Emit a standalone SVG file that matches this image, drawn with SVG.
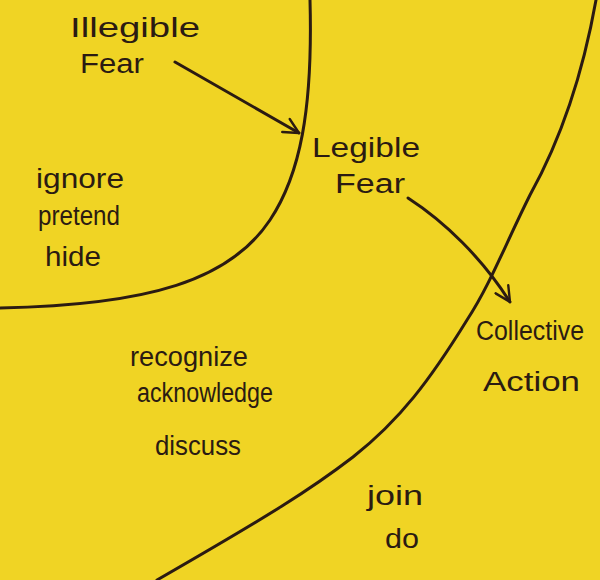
<svg xmlns="http://www.w3.org/2000/svg" width="600" height="580" viewBox="0 0 600 580">
  <style>
    .bg { fill: #F0D424; }
    .ink { fill: none; stroke: #2B1B12; stroke-width: 3; stroke-linecap: round; stroke-linejoin: round; }
    .lbl { font-family: "Liberation Sans", "Open Sans", sans-serif; font-size: 27px; fill: #2B1B12; }
  </style>
  <defs>
    <marker id="arrow" viewBox="0 0 12 12" refX="11" refY="6" markerWidth="6" markerHeight="6" orient="auto" markerUnits="strokeWidth">
      <path d="M1,1 L11,6 L1,11" fill="none" stroke="#2B1B12" stroke-width="1.6" stroke-linecap="round" stroke-linejoin="round"/>
    </marker>
  </defs>
  <rect class="bg" x="0" y="0" width="600" height="580"/>

  <g id="boundaries">
    <path class="ink" d="M310,0 C313,110 300,175 270,220 C230,280 150,305 0,308"/>
    <path class="ink" d="M596,0 C580,90 555,150 530,195 C505,245 490,285 467,320 C430,380 400,420 353,457 C310,490 270,515 157,580"/>
  </g>

  <g id="connectors">
    <path class="ink" d="M175,62 L299,133" marker-end="url(#arrow)"/>
    <path class="ink" d="M408,198 C445,222 482,258 510,302" marker-end="url(#arrow)"/>
  </g>

  <g id="illegible-fear">
    <text class="lbl" x="70" y="37" textLength="130" lengthAdjust="spacingAndGlyphs">Illegible</text>
    <text class="lbl" x="80" y="73" textLength="64" lengthAdjust="spacingAndGlyphs">Fear</text>
  </g>
  <g id="legible-fear">
    <text class="lbl" x="312" y="157" textLength="108" lengthAdjust="spacingAndGlyphs">Legible</text>
    <text class="lbl" x="335" y="193" textLength="70" lengthAdjust="spacingAndGlyphs">Fear</text>
  </g>
  <g id="collective-action">
    <text class="lbl" x="476" y="340" textLength="108" lengthAdjust="spacingAndGlyphs">Collective</text>
    <text class="lbl" x="483" y="391" textLength="97" lengthAdjust="spacingAndGlyphs">Action</text>
  </g>
  <g id="inner-verbs">
    <text class="lbl" x="36" y="188" textLength="88" lengthAdjust="spacingAndGlyphs">ignore</text>
    <text class="lbl" x="38" y="225" textLength="82" lengthAdjust="spacingAndGlyphs">pretend</text>
    <text class="lbl" x="45" y="266" textLength="56" lengthAdjust="spacingAndGlyphs">hide</text>
  </g>
  <g id="middle-verbs">
    <text class="lbl" x="130" y="366" textLength="118" lengthAdjust="spacingAndGlyphs">recognize</text>
    <text class="lbl" x="137" y="402" textLength="136" lengthAdjust="spacingAndGlyphs">acknowledge</text>
    <text class="lbl" x="155" y="455" textLength="86" lengthAdjust="spacingAndGlyphs">discuss</text>
  </g>
  <g id="outer-verbs">
    <text class="lbl" x="367" y="505" textLength="56" lengthAdjust="spacingAndGlyphs">join</text>
    <text class="lbl" x="385" y="548" textLength="34" lengthAdjust="spacingAndGlyphs">do</text>
  </g>
</svg>
